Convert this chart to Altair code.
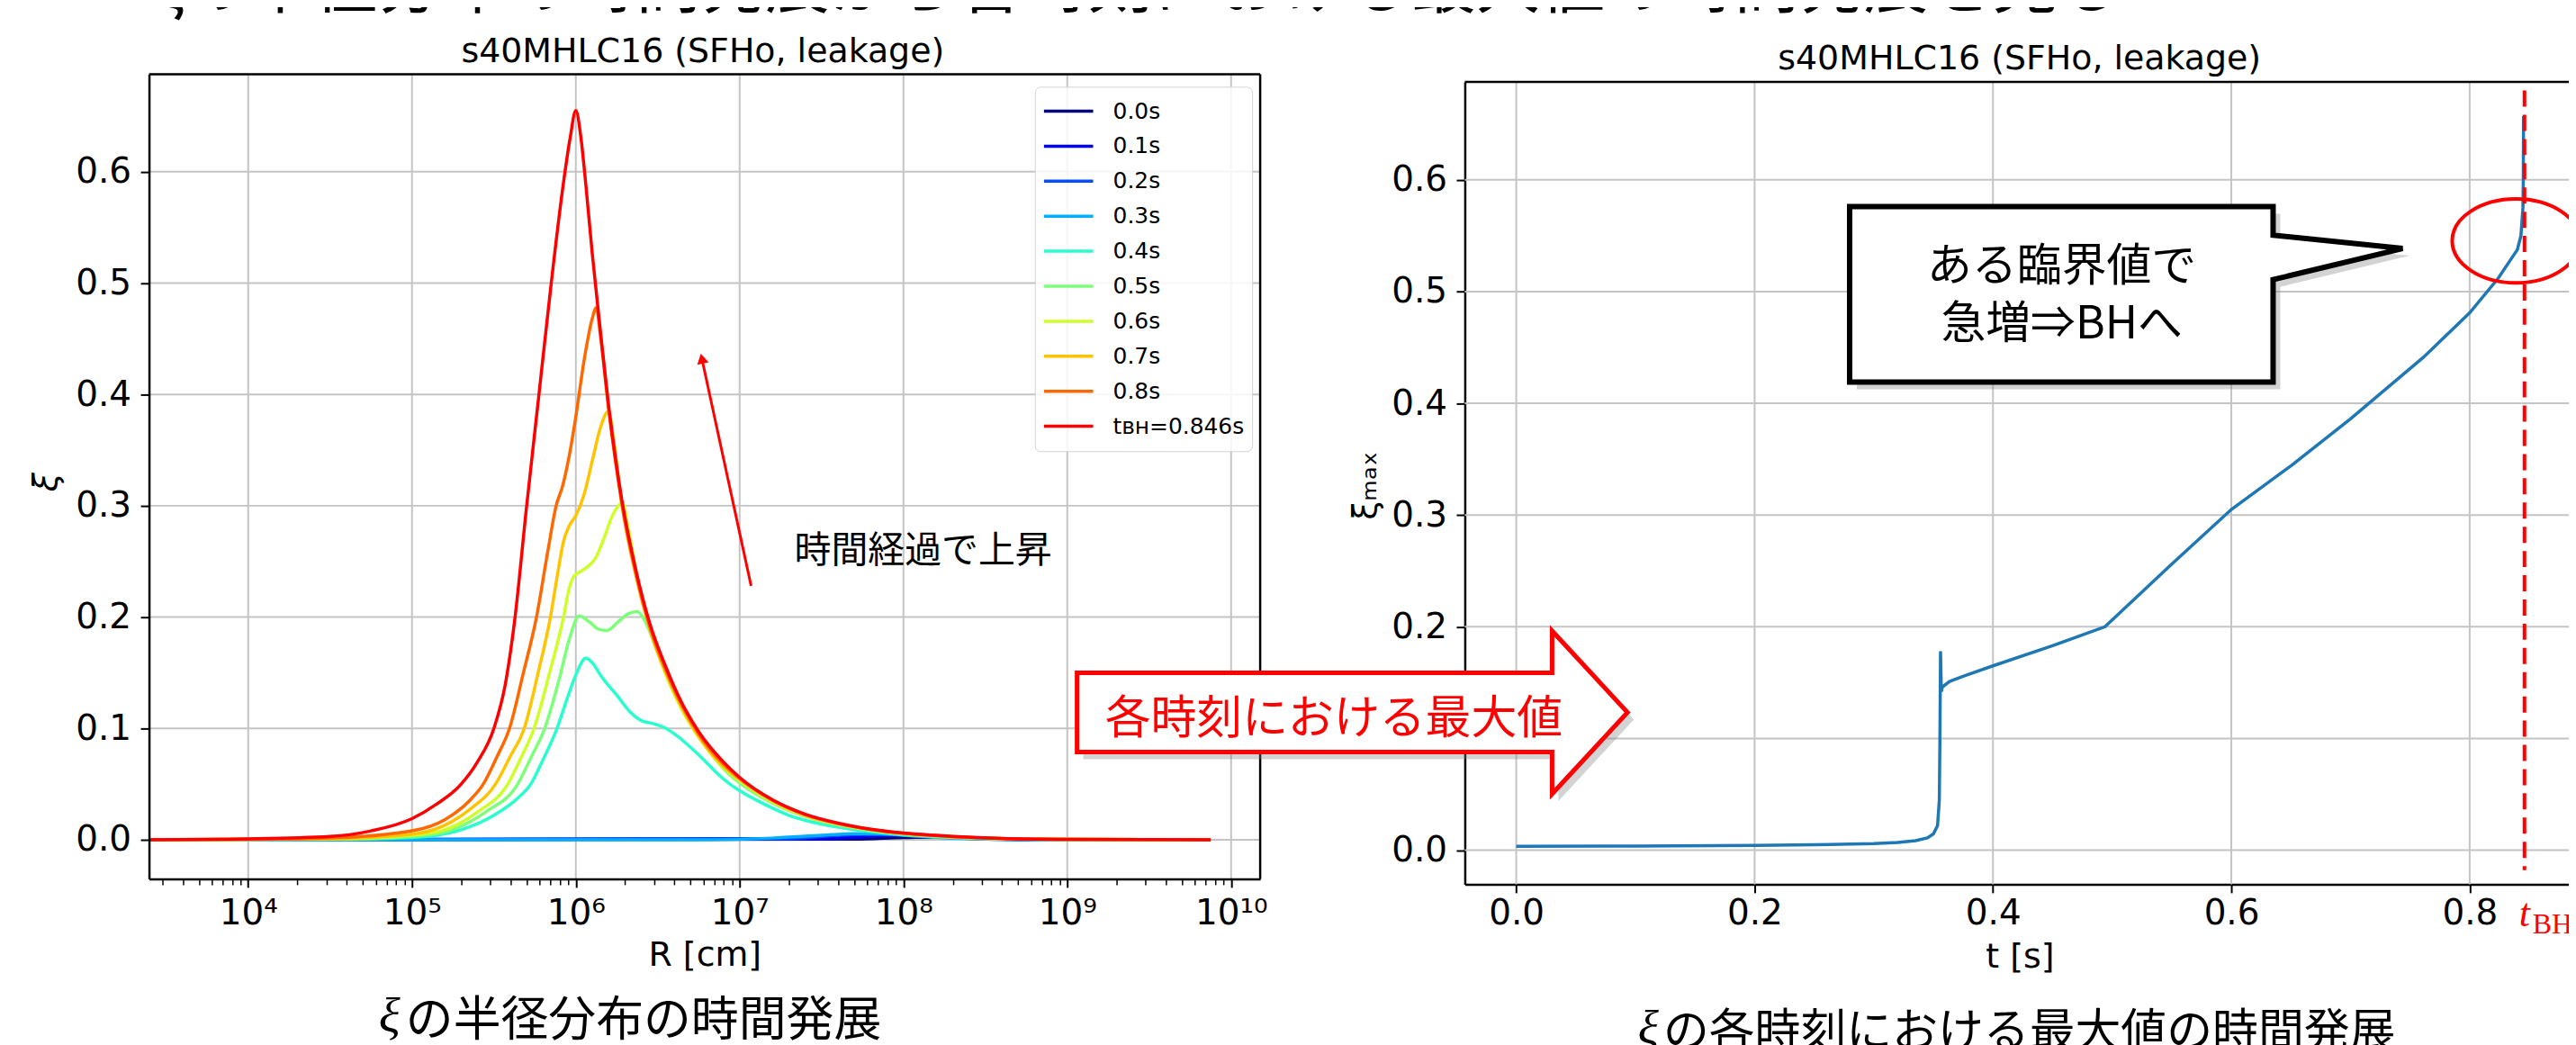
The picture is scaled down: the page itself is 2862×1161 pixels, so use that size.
import altair as alt
import pandas as pd

W, H = 2854, 1153
JP = "Noto Sans CJK JP"
SERIF = "Liberation Serif"
GRID = "#c4c4c4"

# ------------------------------------------------------------------ texts
HEADING = "ξの半径分布の時間発展から各時刻における最大値の時間発展を見る"
PANEL_TITLE = "s40MHLC16 (SFHo, leakage)"
XI_SYMBOL = "ξ"
CAPTION_LEFT = "の半径分布の時間発展"
CAPTION_RIGHT = "の各時刻における最大値の時間発展"
NOTE_LEFT = "時間経過で上昇"
BIG_ARROW_TEXT = "各時刻における最大値"
CALLOUT_LINE1 = "ある臨界値で"
CALLOUT_LINE2 = "急増⇒BHへ"

# ------------------------------------------------------------------ left panel data (log10 R, xi)
SERIES = ["0.0s", "0.1s", "0.2s", "0.3s", "0.4s", "0.5s", "0.6s", "0.7s", "0.8s", "tʙʜ=0.846s"]
COLORS = ["#00007f", "#0000f1", "#004cff", "#00b0ff", "#29ffce", "#7dff7a", "#ceff29", "#ffc400", "#ff6800", "#ff0000"]

LOGR_00 = [3.395, 7.7, 8.0, 8.2, 8.4, 8.7, 9.0, 9.875]
XI_00 = [0.0, 0.0005, 0.002, 0.0025, 0.0015, 0.0004, 0.0, 0.0]
LOGR_01 = [3.395, 7.5, 7.8, 8.0, 8.2, 8.5, 8.9, 9.875]
XI_01 = [0.0, 0.001, 0.003, 0.004, 0.003, 0.001, 0.0, 0.0]
LOGR_02 = [3.395, 7.3, 7.6, 7.85, 8.1, 8.4, 8.8, 9.875]
XI_02 = [0.0, 0.001, 0.004, 0.005, 0.0035, 0.0012, 0.0, 0.0]
LOGR_03 = [3.395, 6.8, 7.2, 7.5, 7.7, 7.9, 8.1, 8.4, 8.8, 9.875]
XI_03 = [0.0, 0.0, 0.0015, 0.004, 0.0055, 0.005, 0.003, 0.001, 0.0, 0.0]
LOGR_04 = [3.395, 4.5, 5.0, 5.3, 5.5, 5.65, 5.725, 5.8, 5.885, 5.95, 6.0, 6.06, 6.1, 6.15,
           6.26, 6.33, 6.4, 6.48, 6.55, 6.62, 6.7, 6.78, 6.86, 6.94, 7.0, 7.15, 7.3, 7.5,
           7.7, 8.0, 8.3, 8.6, 9.0, 9.875]
XI_04 = [0.0, 0.0003, 0.002, 0.009, 0.022, 0.038, 0.05, 0.072, 0.1, 0.128, 0.148, 0.163, 0.159, 0.148,
         0.128, 0.115, 0.107, 0.104, 0.1, 0.093, 0.083, 0.072, 0.06, 0.05, 0.044, 0.032, 0.022, 0.014,
         0.009, 0.0045, 0.002, 0.0008, 0.0003, 0.0]
LOGR_05 = [3.395, 4.5, 5.0, 5.2, 5.45, 5.645, 5.73, 5.81, 5.9, 5.96, 6.02, 6.08, 6.14, 6.19,
           6.26, 6.32, 6.375, 6.42, 6.5, 6.6, 6.7, 6.8, 6.9, 7.0, 7.2, 7.4, 7.6, 7.8, 8.0,
           8.3, 8.6, 9.0, 9.875]
XI_05 = [0.0, 0.0005, 0.003, 0.007, 0.025, 0.05, 0.075, 0.1, 0.145, 0.18, 0.201, 0.196, 0.189, 0.188,
         0.196, 0.203, 0.205, 0.197, 0.168, 0.133, 0.105, 0.083, 0.064, 0.051, 0.033, 0.021, 0.0135,
         0.0085, 0.0052, 0.0024, 0.0009, 0.0003, 0.0]
LOGR_06 = [3.395, 4.5, 5.0, 5.2, 5.4, 5.585, 5.67, 5.745, 5.84, 5.925, 5.96, 5.99, 6.03, 6.07,
           6.12, 6.17, 6.22, 6.26, 6.285, 6.32, 6.38, 6.45, 6.55, 6.65, 6.75, 6.9, 7.0, 7.2,
           7.4, 7.6, 7.8, 8.0, 8.3, 8.6, 9.0, 9.875]
XI_06 = [0.0, 0.0008, 0.004, 0.009, 0.025, 0.05, 0.075, 0.1, 0.15, 0.2, 0.226, 0.237, 0.241, 0.245,
         0.253, 0.27, 0.29, 0.3, 0.303, 0.28, 0.232, 0.19, 0.148, 0.116, 0.092, 0.065, 0.053, 0.034,
         0.0215, 0.0138, 0.0087, 0.0054, 0.0026, 0.001, 0.0003, 0.0]
LOGR_07 = [3.395, 4.5, 5.0, 5.2, 5.35, 5.51, 5.6, 5.685, 5.77, 5.845, 5.89, 5.925, 5.96, 6.0,
           6.05, 6.1, 6.15, 6.2, 6.23, 6.28, 6.37, 6.45, 6.55, 6.65, 6.75, 6.9, 7.0, 7.2,
           7.4, 7.6, 7.8, 8.0, 8.3, 8.6, 9.0, 9.875]
XI_07 = [0.0, 0.001, 0.005, 0.013, 0.027, 0.05, 0.075, 0.1, 0.15, 0.2, 0.24, 0.268, 0.282, 0.291,
         0.31, 0.34, 0.37, 0.385, 0.36, 0.302, 0.235, 0.19, 0.15, 0.118, 0.093, 0.066, 0.054, 0.035,
         0.022, 0.0142, 0.009, 0.0056, 0.0027, 0.001, 0.0004, 0.0]
LOGR_08 = [3.395, 4.0, 4.5, 5.0, 5.2, 5.35, 5.435, 5.52, 5.595, 5.68, 5.76, 5.83, 5.88, 5.92,
           5.96, 6.0, 6.05, 6.1, 6.125, 6.15, 6.2, 6.28, 6.37, 6.45, 6.55, 6.65, 6.75, 6.9,
           7.0, 7.2, 7.4, 7.6, 7.8, 8.0, 8.3, 8.6, 9.0, 9.875]
XI_08 = [0.0, 0.0003, 0.0015, 0.008, 0.018, 0.035, 0.05, 0.075, 0.1, 0.15, 0.2, 0.26, 0.3, 0.318,
         0.345, 0.38, 0.43, 0.468, 0.478, 0.453, 0.387, 0.303, 0.237, 0.192, 0.152, 0.12, 0.095, 0.068,
         0.055, 0.0355, 0.0225, 0.0146, 0.0093, 0.0058, 0.0028, 0.0011, 0.0004, 0.0]
LOGR_BH = [3.395, 4.0, 4.5, 4.75, 5.0, 5.15, 5.3, 5.4, 5.5, 5.57, 5.625, 5.70, 5.775, 5.85,
           5.92, 5.965, 6.0, 6.03, 6.06, 6.1, 6.15, 6.2, 6.28, 6.37, 6.45, 6.55, 6.65, 6.75,
           6.9, 7.0, 7.2, 7.4, 7.6, 7.8, 8.0, 8.3, 8.6, 9.0, 9.5, 9.875]
XI_BH = [0.0, 0.0008, 0.003, 0.008, 0.019, 0.032, 0.05, 0.07, 0.1, 0.14, 0.195, 0.3, 0.4, 0.5,
         0.585, 0.63, 0.655, 0.632, 0.59, 0.527, 0.457, 0.39, 0.306, 0.24, 0.195, 0.155, 0.122, 0.097,
         0.07, 0.056, 0.036, 0.023, 0.015, 0.0095, 0.006, 0.003, 0.0012, 0.0004, 0.0001, 0.0]

LOGR_ALL = [LOGR_00, LOGR_01, LOGR_02, LOGR_03, LOGR_04, LOGR_05, LOGR_06, LOGR_07, LOGR_08, LOGR_BH]
XI_ALL = [XI_00, XI_01, XI_02, XI_03, XI_04, XI_05, XI_06, XI_07, XI_08, XI_BH]

# ------------------------------------------------------------------ right panel data (t, xi_max)
T_MAX = [0.0, 0.1, 0.2, 0.25, 0.3, 0.32, 0.335, 0.345, 0.35, 0.3535, 0.355, 0.3555, 0.356, 0.3567,
         0.3575, 0.3636, 0.376, 0.4, 0.45, 0.494, 0.55, 0.6, 0.65, 0.7, 0.761, 0.8, 0.824,
         0.84, 0.843, 0.8447, 0.845, 0.8452]
XI_MAX = [0.0034, 0.0037, 0.0042, 0.0048, 0.0058, 0.0068, 0.0085, 0.011, 0.0145, 0.022, 0.045, 0.1,
          0.178, 0.142, 0.146, 0.151, 0.156, 0.165, 0.183, 0.2, 0.256, 0.305, 0.344, 0.386,
          0.441, 0.481, 0.512, 0.5375, 0.55, 0.575, 0.6, 0.657]
T_BH = 0.846

# ------------------------------------------------------------------ ticks
X_TICKS = [1e4, 1e5, 1e6, 1e7, 1e8, 1e9, 1e10]
Y_TICKS = [0.0, 0.1, 0.2, 0.3, 0.4, 0.5, 0.6]
T_TICKS = [0.0, 0.2, 0.4, 0.6, 0.8]

# ------------------------------------------------------------------ frames
rows = []
for name, lr, xs in zip(SERIES, LOGR_ALL, XI_ALL):
    for a, b in zip(lr, xs):
        rows.append({"series": name, "R": 10 ** a, "xi": b})
df_left = pd.DataFrame(rows)
df_right = pd.DataFrame({"t": T_MAX, "xi": XI_MAX})
one = pd.DataFrame({"k": [0]})

# ------------------------------------------------------------------ scales
X_L_DOMAIN = [10 ** 3.3946, 10 ** 10.1775]
Y_L_DOMAIN = [-0.0351, 0.6876]
T_DOMAIN = [-0.04316, 0.888]
Y_R_DOMAIN = [-0.0305, 0.6878]
xL = alt.Scale(type="log", domain=X_L_DOMAIN, range=[158, 1396], nice=False)
yL = alt.Scale(domain=Y_L_DOMAIN, range=[969.5, 73], nice=False, zero=False)
xR = alt.Scale(domain=T_DOMAIN, range=[1624, 2860.4], nice=False, zero=False)
yR = alt.Scale(domain=Y_R_DOMAIN, range=[975.5, 81.5], nice=False, zero=False)

MINOR_TICKS = [k * 10.0 ** n for n in range(3, 10) for k in range(2, 10)
               if X_L_DOMAIN[0] <= k * 10.0 ** n <= X_L_DOMAIN[1]]

AX = dict(labelFont="DejaVu Sans", labelFontSize=39, labelColor="black", tickColor="black",
          domainColor="black", domainWidth=2.5, grid=False, titleFont="DejaVu Sans",
          titleFontSize=38, titleFontWeight="normal", titleColor="black", labelFlush=False,
          labelOverlap=False)

MINOR = "abs(log(datum.value)/LN10 - round(log(datum.value)/LN10)) > 0.01"
SUP = "['10⁰','10¹','10²','10³','10⁴','10⁵','10⁶','10⁷','10⁸','10⁹','10¹⁰']"

axisLx = alt.Axis(orient="bottom", offset=969.5 - H, values=X_TICKS + MINOR_TICKS,
                  labelExpr=f"({MINOR}) ? '' : {SUP}[round(log(datum.value)/LN10)]",
                  tickSize={"condition": {"test": MINOR, "value": 6.5}, "value": 9.5},
                  tickWidth={"condition": {"test": MINOR, "value": 1.5}, "value": 2},
                  labelPadding=10, title="R [cm]", titleY=66, titleBaseline="top", zindex=1, **AX)
axisLy = alt.Axis(orient="left", offset=-158, values=Y_TICKS, format=".1f", tickSize=9.5, tickWidth=2,
                  labelPadding=10.5, title="ξ", titleX=-114, titleY=527, titleBaseline="middle",
                  titleFontStyle="italic", zindex=1, **AX)
axisRx = alt.Axis(orient="bottom", offset=975.5 - H, values=T_TICKS, format=".1f", tickSize=9.5,
                  tickWidth=2, labelPadding=4, title="t [s]", titleY=62, titleBaseline="top",
                  zindex=0, **AX)
axisRy = alt.Axis(orient="left", offset=-1624, values=Y_TICKS, format=".1f", tickSize=9.5, tickWidth=2,
                  labelPadding=10.5, title="ξₘₐₓ", titleX=-110, titleY=531, titleBaseline="middle",
                  zindex=0, **AX)

legend = alt.Legend(title=None, orient="none", legendX=1145, legendY=87, direction="vertical",
                    symbolType="stroke", symbolSize=3000, symbolStrokeWidth=3.5,
                    labelFont="DejaVu Sans", labelFontSize=25, labelColor="black", labelOffset=20,
                    clipHeight=38.5, rowPadding=0, padding=8, strokeColor="#d4d4d4",
                    fillColor="rgba(255,255,255,0.85)", cornerRadius=6, labelLimit=400)
color = alt.Color("series:N", scale=alt.Scale(domain=SERIES, range=COLORS), legend=legend)


def LX(v):
    return alt.XDatum(v, scale=xL, axis=axisLx)


def LY(v):
    return alt.YDatum(v, scale=yL, axis=axisLy)


def RX(v):
    return alt.XDatum(v, scale=xR, axis=axisRx)


def RY(v):
    return alt.YDatum(v, scale=yR, axis=axisRy)


# ------------------------------------------------------------------ left panel
gridLx = alt.Chart(pd.DataFrame({"v": X_TICKS})).mark_rule(color=GRID, strokeWidth=2).encode(
    x=alt.X("v:Q", scale=xL, axis=axisLx), y=LY(Y_L_DOMAIN[0]), y2=alt.Y2Datum(Y_L_DOMAIN[1]))
gridLy = alt.Chart(pd.DataFrame({"v": Y_TICKS})).mark_rule(color=GRID, strokeWidth=2).encode(
    y=alt.Y("v:Q", scale=yL, axis=axisLy), x=LX(X_L_DOMAIN[0]), x2=alt.X2Datum(X_L_DOMAIN[1]))

line_layers = [
    alt.Chart(df_left).transform_filter(alt.datum.series == s)
    .mark_line(strokeWidth=3.5, interpolate="monotone")
    .encode(x=alt.X("R:Q", scale=xL, axis=axisLx), y=alt.Y("xi:Q", scale=yL, axis=axisLy), color=color)
    for s in SERIES
]

spineLtop = alt.Chart(one).mark_rule(color="black", strokeWidth=2.5).encode(
    x=LX(X_L_DOMAIN[0]), x2=alt.X2Datum(X_L_DOMAIN[1]), y=LY(Y_L_DOMAIN[1]))
spineLright = alt.Chart(one).mark_rule(color="black", strokeWidth=2.5).encode(
    x=LX(X_L_DOMAIN[1]), y=LY(Y_L_DOMAIN[0]), y2=alt.Y2Datum(Y_L_DOMAIN[1]))

note_line = alt.Chart(one).mark_rule(color="#ff0000", strokeWidth=3).encode(
    x=LX(10 ** 7.070), x2=alt.X2Datum(10 ** 6.7695), y=LY(0.228), y2=alt.Y2Datum(0.4321))
note_head = alt.Chart(one).mark_point(shape="triangle-up", size=170, filled=True, color="#ff0000",
                                      angle=347.75, opacity=1).encode(
    x=LX(10 ** 6.7695), y=LY(0.4321))
note_text = alt.Chart(pd.DataFrame({"s": [NOTE_LEFT]})).mark_text(
    font=JP, fontSize=41, align="left", baseline="middle", dy=3, color="black").encode(
    text="s:N", x=LX(10 ** 7.334), y=LY(0.2613))

left = alt.layer(gridLx, gridLy, *line_layers, spineLtop, spineLright,
                 note_line, note_head, note_text)

# ------------------------------------------------------------------ right panel
gridRx = alt.Chart(pd.DataFrame({"v": T_TICKS})).mark_rule(color=GRID, strokeWidth=2).encode(
    x=alt.X("v:Q", scale=xR, axis=axisRx), y=RY(Y_R_DOMAIN[0]), y2=alt.Y2Datum(Y_R_DOMAIN[1]))
gridRy = alt.Chart(pd.DataFrame({"v": Y_TICKS})).mark_rule(color=GRID, strokeWidth=2).encode(
    y=alt.Y("v:Q", scale=yR, axis=axisRy), x=RX(T_DOMAIN[0]), x2=alt.X2Datum(T_DOMAIN[1]))

blue = alt.Chart(df_right).mark_line(color="#1f77b4", strokeWidth=3.5).encode(
    x=alt.X("t:Q", scale=xR, axis=axisRx), y=alt.Y("xi:Q", scale=yR, axis=axisRy))

spineRtop = alt.Chart(one).mark_rule(color="black", strokeWidth=2.5).encode(
    x=RX(T_DOMAIN[0]), x2=alt.X2Datum(T_DOMAIN[1]), y=RY(Y_R_DOMAIN[1]))

dashed = alt.Chart(one).mark_rule(color="#ff0000", strokeWidth=4, strokeDash=[18, 9]).encode(
    x=RX(T_BH), y=RY(0.68), y2=alt.Y2Datum(-0.018))

KK = 0.364
ELLIPSE = (f"M1,0 C1,{KK} 0.5523,0.659 0,0.659 C-0.5523,0.659 -1,{KK} -1,0 "
           f"C-1,-{KK} -0.5523,-0.659 0,-0.659 C0.5523,-0.659 1,-{KK} 1,0 Z")
ellipse = alt.Chart(one).mark_point(shape=ELLIPSE, size=20164, filled=False, stroke="#ff0000",
                                    strokeWidth=4, opacity=1).encode(x=RX(0.8388), y=RY(0.5454))

CALLOUT = ("M-1,-0.4146 L1,-0.4146 L1,-0.2794 L1.6113,-0.2162 L1,-0.0691 L1,0.4146 "
           "L-1,0.4146 Z")
callout_shadow = alt.Chart(one).mark_point(shape=CALLOUT, size=222595, filled=True, fill="#808080",
                                           strokeWidth=0, opacity=0.35, xOffset=8, yOffset=8).encode(
    x=RX(0.4574), y=RY(0.4976))
callout = alt.Chart(one).mark_point(shape=CALLOUT, size=222595, filled=True, fill="white",
                                    stroke="black", strokeWidth=6, opacity=1).encode(
    x=RX(0.4574), y=RY(0.4976))
callout_t1 = alt.Chart(pd.DataFrame({"s": [CALLOUT_LINE1]})).mark_text(
    font=JP, fontSize=50, align="center", baseline="middle", dy=4, color="black").encode(
    text="s:N", x=RX(0.4577), y=RY(0.5246))
callout_t2 = alt.Chart(pd.DataFrame({"s": [CALLOUT_LINE2]})).mark_text(
    font=JP, fontSize=50, align="center", baseline="middle", dy=4, color="black").encode(
    text="s:N", x=RX(0.4577), y=RY(0.4734))

ARROW = ("M-1,-0.1441 L0.7261,-0.1441 L0.7261,-0.2961 L1,0 L0.7261,0.2961 L0.7261,0.1441 "
         "L-1,0.1441 Z")
arrow_shadow = alt.Chart(one).mark_point(shape=ARROW, size=376137, filled=True, fill="#808080",
                                         strokeWidth=0, opacity=0.35, xOffset=7, yOffset=8).encode(
    x=RX(-0.1376), y=RY(0.1233))
arrow = alt.Chart(one).mark_point(shape=ARROW, size=376137, filled=True, fill="white",
                                  stroke="#ff0000", strokeWidth=5, opacity=1).encode(
    x=RX(-0.1376), y=RY(0.1233))
arrow_text = alt.Chart(pd.DataFrame({"s": [BIG_ARROW_TEXT]})).mark_text(
    font=JP, fontSize=51, align="center", baseline="middle", dy=4, color="#ff0000").encode(
    text="s:N", x=RX(-0.1531), y=RY(0.1200))

tbh_t = alt.Chart(pd.DataFrame({"s": ["t"]})).mark_text(
    font=SERIF, fontSize=44, fontStyle="italic", align="center", baseline="alphabetic",
    color="#ff0000").encode(text="s:N", x=RX(T_BH), y=alt.value(1022))
tbh_bh = alt.Chart(pd.DataFrame({"s": ["BH"]})).mark_text(
    font=SERIF, fontSize=32, align="left", baseline="alphabetic", dx=9,
    color="#ff0000").encode(text="s:N", x=RX(T_BH), y=alt.value(1030))

right = alt.layer(gridRx, gridRy, blue, spineRtop, dashed, ellipse, callout_shadow, callout,
                  callout_t1, callout_t2, arrow_shadow, arrow, arrow_text, tbh_t, tbh_bh)

# ------------------------------------------------------------------ page texts
heading = alt.Chart(pd.DataFrame({"s": [HEADING]})).mark_text(
    font=JP, fontSize=72, align="left", baseline="alphabetic", color="black").encode(
    text="s:N", x=alt.value(162), y=alt.value(-1.6))
title_l = alt.Chart(pd.DataFrame({"s": [PANEL_TITLE]})).mark_text(
    font="DejaVu Sans", fontSize=38, align="center", baseline="alphabetic", color="black").encode(
    text="s:N", x=alt.value(775), y=alt.value(59.5))
title_r = alt.Chart(pd.DataFrame({"s": [PANEL_TITLE]})).mark_text(
    font="DejaVu Sans", fontSize=38, align="center", baseline="alphabetic", color="black").encode(
    text="s:N", x=alt.value(2242), y=alt.value(67.5))
cap_l_xi = alt.Chart(pd.DataFrame({"s": [XI_SYMBOL]})).mark_text(
    font=SERIF, fontSize=56, fontStyle="italic", align="right", baseline="alphabetic",
    color="black").encode(text="s:N", x=alt.value(438), y=alt.value(1141))
cap_l = alt.Chart(pd.DataFrame({"s": [CAPTION_LEFT]})).mark_text(
    font=JP, fontSize=53, align="center", baseline="alphabetic", color="black").encode(
    text="s:N", x=alt.value(709), y=alt.value(1145))
cap_r_xi = alt.Chart(pd.DataFrame({"s": [XI_SYMBOL]})).mark_text(
    font=SERIF, fontSize=54, fontStyle="italic", align="right", baseline="alphabetic",
    color="black").encode(text="s:N", x=alt.value(1840), y=alt.value(1153))
cap_r = alt.Chart(pd.DataFrame({"s": [CAPTION_RIGHT]})).mark_text(
    font=JP, fontSize=51, align="center", baseline="alphabetic", color="black").encode(
    text="s:N", x=alt.value(2253), y=alt.value(1157))

chart = (
    alt.layer(left, right, heading, title_l, title_r, cap_l_xi, cap_l, cap_r_xi, cap_r)
    .resolve_scale(x="independent", y="independent")
    .properties(width=W, height=H, autosize=alt.AutoSizeParams(type="none"), padding=0,
                background="white")
    .configure_view(stroke=None)
)

chart.save("out.html", embed_options={"renderer": "svg", "actions": False})
